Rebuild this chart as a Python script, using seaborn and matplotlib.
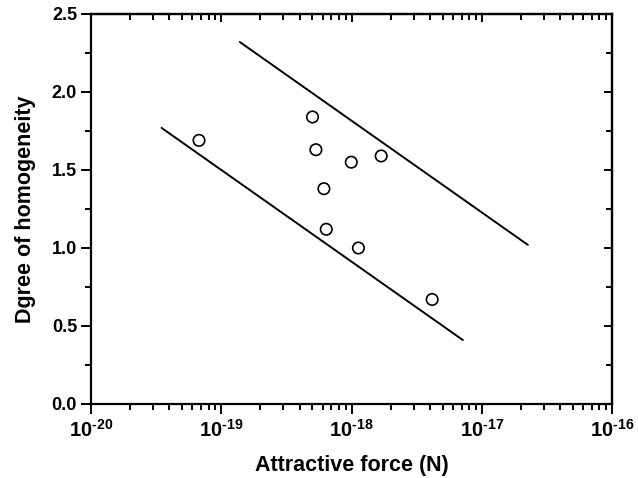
import matplotlib
matplotlib.use("Agg")
import matplotlib.pyplot as plt
import matplotlib.ticker as mticker
import numpy as np
import pandas as pd
import seaborn as sns

# Measured samples
force = [6.75e-20, 5.02e-19, 5.33e-19, 6.14e-19, 6.4e-19, 9.96e-19, 1.69e-18, 1.13e-18, 4.16e-18]
homogeneity = [1.69, 1.84, 1.63, 1.38, 1.12, 1.55, 1.59, 1.00, 0.67]

# Bounding guide lines (end points)
upper_x = [1.39e-19, 2.26e-17]
upper_y = [2.32, 1.02]
lower_x = [3.48e-20, 7.16e-18]
lower_y = [1.77, 0.41]

x_ticks = [1e-20, 1e-19, 1e-18, 1e-17, 1e-16]
y_ticks = [0.0, 0.5, 1.0, 1.5, 2.0, 2.5]

sns.set_style("ticks")
plt.rcParams["font.family"] = ["Liberation Sans", "DejaVu Sans"]
plt.rcParams["font.weight"] = "bold"
plt.rcParams["mathtext.fontset"] = "custom"
plt.rcParams["mathtext.rm"] = "Liberation Sans:bold"
plt.rcParams["mathtext.bf"] = "Liberation Sans:bold"
plt.rcParams["text.color"] = "black"
plt.rcParams["axes.labelcolor"] = "black"
plt.rcParams["xtick.color"] = "black"
plt.rcParams["ytick.color"] = "black"

fig = plt.figure(figsize=(6.38, 4.78), dpi=100)
ax = fig.add_axes([91 / 638, 1 - 404 / 478, (612 - 91) / 638, (404 - 14) / 478])

df = pd.DataFrame({"force": force, "homogeneity": homogeneity})
sns.scatterplot(data=df, x="force", y="homogeneity", ax=ax, marker="o", s=68,
                facecolor="none", edgecolor="black", linewidth=1.2, zorder=3)

for xs, ys in [(upper_x, upper_y), (lower_x, lower_y)]:
    sns.lineplot(x=xs, y=ys, ax=ax, color="black", linewidth=1.4, estimator=None,
                 sort=False)

ax.set_xscale("log")
ax.set_xlim(1e-20, 1e-16)
ax.set_ylim(0, 2.5)


def decade_label(v, pos):
    e = int(round(np.log10(v)))
    sign = "\u2010" if e < 0 else ""
    return r"$\mathrm{10^{%s%d}}$" % (sign, abs(e))


ax.set_xticks(x_ticks)
ax.xaxis.set_major_formatter(mticker.FuncFormatter(decade_label))
ax.xaxis.set_minor_locator(mticker.LogLocator(base=10, subs=np.arange(2, 10)))
ax.xaxis.set_minor_formatter(mticker.NullFormatter())
ax.set_yticks(y_ticks)
ax.yaxis.set_major_formatter(mticker.FormatStrFormatter("%.1f"))
ax.yaxis.set_minor_locator(mticker.MultipleLocator(0.25))

for s in ax.spines.values():
    s.set_visible(True)
    s.set_linewidth(1.6)
    s.set_color("black")

# left/bottom ticks point outward
ax.tick_params(which="both", direction="out", top=False, right=False, width=1.4)
ax.tick_params(which="major", length=7, pad=3)
ax.tick_params(which="minor", length=4)
ax.tick_params(axis="y", labelsize=13)
ax.tick_params(axis="x", which="major", labelsize=14.5, pad=4)

# top/right ticks point inward
top = ax.secondary_xaxis("top")
top.set_xticks(x_ticks)
top.xaxis.set_minor_locator(mticker.LogLocator(base=10, subs=np.arange(2, 10)))
top.tick_params(which="both", direction="in", width=1.4, labeltop=False)
top.tick_params(which="major", length=6)
top.tick_params(which="minor", length=4)
top.spines["top"].set_linewidth(1.6)

right = ax.secondary_yaxis("right")
right.set_yticks(y_ticks)
right.yaxis.set_minor_locator(mticker.MultipleLocator(0.25))
right.tick_params(which="both", direction="in", width=1.4, labelright=False)
right.tick_params(which="major", length=6)
right.tick_params(which="minor", length=4)
right.spines["right"].set_linewidth(1.6)

ax.set_xlabel("Attractive force (N)", fontsize=15.5, fontweight="bold", labelpad=10)
ax.set_ylabel("Dgree of homogeneity", fontsize=15.5, fontweight="bold", labelpad=11)

fig.savefig("out.png", dpi=100)
